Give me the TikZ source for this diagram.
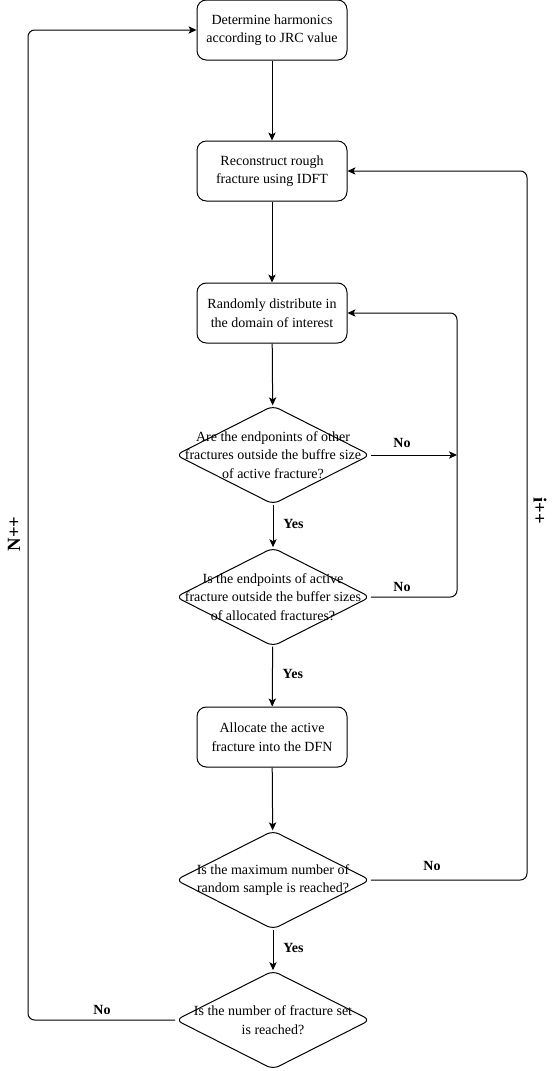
\documentclass[tikz,border=0pt]{standalone}
\usepackage{fontspec}
\setmainfont{Liberation Serif}
\usetikzlibrary{arrows.meta,shapes.geometric}
\begin{document}
\begin{tikzpicture}[x=0.75pt,y=-0.75pt,
  txt/.style={font=\fontsize{10.5}{14}\selectfont, align=center},
  box/.style={draw, rounded corners=7pt, minimum width=112.5pt, minimum height=45pt, txt, line width=0.75pt, inner sep=0pt},
  dec/.style={draw, diamond, minimum width=146pt, minimum height=74pt, inner sep=0pt, rounded corners=5pt, line width=0.75pt},
  lab/.style={font=\fontsize{10.5}{12}\selectfont\bfseries},
  big/.style={font=\fontsize{14}{16}\selectfont\bfseries},
  arr/.style={-{Stealth[length=6pt,width=5.5pt,inset=1.5pt]}, line width=0.75pt, rounded corners=5pt},
  ln/.style={line width=0.75pt, rounded corners=5pt}
]
\useasboundingbox (0,0) rectangle (554,1071);

\node[box] (b1) at (272,30) {Determine harmonics\\according to JRC value};
\node[box] (b2) at (272,171) {Reconstruct rough\\fracture using IDFT};
\node[box] (b3) at (272,313) {Randomly distribute in\\the domain of interest};
\node[dec] (d1) at (273,455) {};
\node[txt] (t1) at (273,455) {Are the endponints of other\\fractures outside the buffre size\\of active fracture?};
\node[dec] (d2) at (273,597) {};
\node[txt] (t2) at (273,597) {Is the endpoints of active\\fracture outside the buffer sizes\\of allocated fractures?};
\node[box] (b4) at (272,737) {Allocate the active\\fracture into the DFN};
\node[dec] (d3) at (273,880) {};
\node[txt] (t3) at (273,880) {Is the maximum number of\\random sample is reached?};
\node[dec] (d4) at (273,1020) {};
\node[txt] (t4) at (273,1020) {Is the number of fracture set\\is reached?};

\coordinate (j1) at (457,455);
\coordinate (c1) at (457,313);
\coordinate (c2) at (457,597);
\coordinate (c3) at (527,880);
\coordinate (c4) at (527,171);
\coordinate (c5) at (28,1020);
\coordinate (c6) at (28,30);

\draw[arr] (b1) -- (b2);
\draw[arr] (b2) -- (b3);
\draw[arr] (b3) -- (d1);
\draw[arr] (d1) -- (d2) node[lab, pos=0.45, right=4pt] (y1) {Yes};
\draw[arr] (d2) -- (b4) node[lab, pos=0.45, right=4pt] (y2) {Yes};
\draw[arr] (b4) -- (d3);
\draw[arr] (d3) -- (d4) node[lab, pos=0.45, right=4pt] (y3) {Yes};
\draw[arr] (d1.east) -- (j1);
\node[lab] (n1) at (402,443) {No};
\draw[arr] (d2.east) -- (c2) -- (c1) -- (b3.east);
\node[lab] (n2) at (402,587) {No};
\draw[arr] (d3.east) -- (c3) -- (c4) -- (b2.east);
\node[lab] (n3) at (432,866) {No};
\draw[arr] (d4.west) -- (c5) -- (c6) -- (b1.west);
\node[lab] (n4) at (102,1010) {No};

\node[big, rotate=90] (np) at (14,534) {N++};
\node[big, rotate=-90] (ip) at (540,511) {i++};
\end{tikzpicture}
\end{document}
